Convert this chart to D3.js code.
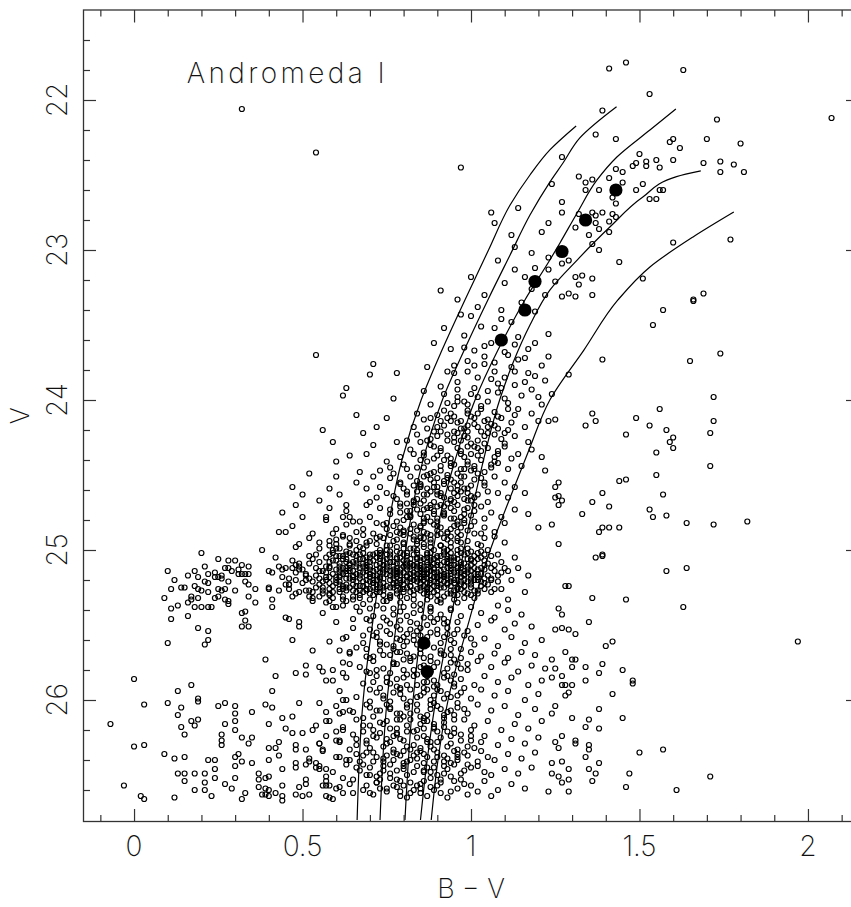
<!DOCTYPE html>
<html><head><meta charset="utf-8">
<script src="https://cdn.jsdelivr.net/npm/d3@7"></script>
<style>
body{margin:0;background:#fff}
svg{display:block}
text{font-family:Inter,"DejaVu Sans",sans-serif;font-weight:200;fill:#111}
</style>
</head><body>
<svg id="chart" width="851" height="907"></svg>
<script>
// ---------- axis ticks / labels ----------
const xMajor = [0, 0.5, 1, 1.5, 2];
const xLabels = ["0", "0.5", "1", "1.5", "2"];
const yMajor = [22, 23, 24, 25, 26];
const yLabels = ["22", "23", "24", "25", "26"];
const xMinor = [-0.1,0.1,0.2,0.3,0.4,0.6,0.7,0.8,0.9,1.1,1.2,1.3,1.4,1.6,1.7,1.8,1.9,2.1];
const yMinor = [21.6,21.8,22.2,22.4,22.6,22.8,23.2,23.4,23.6,23.8,24.2,24.4,24.6,24.8,25.2,25.4,25.6,25.8,26.2,26.4,26.6];
const titleText = "Andromeda I";
const xTitle = "B \u2212 V";
const yTitle = "V";

// ---------- isochrones (B-V, V) ----------
const iso1BV = [1.312,1.234,1.175,1.116,1.052,0.982,0.914,0.852,0.795,0.752,0.718,0.680,0.662];
const iso1V  = [22.173,22.333,22.5,22.7,23.0,23.333,23.667,24.0,24.4,24.867,25.333,26.0,26.8];
const iso2BV = [1.432,1.323,1.273,1.234,1.175,1.116,1.050,0.980,0.915,0.850,0.806,0.776,0.751,0.730];
const iso2V  = [22.045,22.253,22.42,22.547,22.767,23.033,23.333,23.667,24.0,24.467,25.0,25.533,26.0,26.8];
const iso3BV = [1.608,1.531,1.433,1.374,1.315,1.264,1.234,1.160,1.080,1.012,0.953,0.899,0.864,0.828,0.804];
const iso3V  = [22.06,22.2,22.38,22.533,22.753,22.953,23.067,23.333,23.667,24.0,24.4,24.867,25.333,26.0,26.8];
const iso4BV = [1.682,1.610,1.510,1.412,1.315,1.234,1.175,1.125,1.085,1.030,0.985,0.945,0.905,0.870,0.850];
const iso4V  = [22.473,22.511,22.647,22.847,23.067,23.267,23.5,23.75,24.0,24.467,24.933,25.4,25.867,26.4,26.8];
const iso5BV = [1.780,1.659,1.531,1.436,1.335,1.234,1.172,1.125,1.050,0.995,0.932,0.902,0.882];
const iso5V  = [22.747,22.913,23.113,23.333,23.667,24.0,24.333,24.6,25.047,25.467,26.0,26.4,26.8];

// ---------- mean ridge points (filled) ----------
const ridgeBV = [1.43,1.34,1.27,1.19,1.16,1.09,0.86,0.87];
const ridgeV  = [22.60,22.80,23.01,23.21,23.40,23.60,25.62,25.81];

// ---------- stars: flat lists of [B-V*100, V*100] ----------
const brightRGB = [141,2179,146,2175,163,2180,153,2196,139,2207,207,2212,173,2213,137,2223,143,2226,159,2228,160,2226,162,2232,170,2226,180,2229,150,2236,155,2240,152,2241,149,2242,148,2244,152,2244,156,2245,160,2240,169,2242,174,2241,178,2243,181,2248,174,2248,127,2238,124,2256,143,2246,145,2248,132,2251,134,2255,136,2253,134,2260,138,2260,141,2252,145,2255,151,2256,149,2260,156,2260,157,2260,153,2266,155,2266,142,2265,143,2269,127,2268,127,2275,136,2275,139,2275,137,2277,132,2276,142,2276,143,2278,141,2281,137,2282,131,2285,138,2286,141,2288,135,2290,136,2296,138,2300,129,2307,127,2309,123,2305,123,2313,125,2321,131,2318,133,2317,136,2319,132,2323,144,2308,160,2295,177,2293,151,2319,169,2329,166,2333,136,2330,129,2329,127,2331,131,2331];
const upperLeft = [32,2206,54,2235,97,2245,106,2275,107,2282,112,2290,118,2302,121,2288,116,2318,110,2322,104,2330,113,2298,123,2282,100,2318,122,2330,108,2307,115,2335,96,2333,91,2327,114,2272,119,2312,102,2338,109,2340,118,2326,113,2313];
const rightField = [157,2340,154,2350,166,2334,174,2369,165,2374,139,2373,129,2383,172,2398,125,2413,123,2414,136,2409,137,2414,134,2417,149,2412,156,2406,153,2417,158,2420,146,2423,160,2425,159,2428,160,2432,172,2414,171,2422,155,2435,171,2444,155,2450,144,2454,146,2453,157,2463,139,2462,136,2468,141,2471,126,2455,125,2458,126,2464,125,2465,127,2467,126,2470,133,2476,153,2473,154,2478,158,2477,164,2482,172,2483,182,2481,124,2483,138,2488,139,2485,141,2485,144,2485,126,2496,137,2505,139,2503,139,2504,158,2514,164,2512,163,2538,146,2533,136,2532,128,2524,129,2524,126,2539,127,2543,135,2548,125,2553,127,2552,129,2553,131,2556,142,2561,140,2564,197,2561,128,2568,130,2573,131,2573,124,2573,125,2579,130,2578,134,2578,139,2576,138,2582,145,2580,148,2589,148,2587,142,2596,134,2587,127,2584,127,2590,128,2590,130,2590,128,2597,129,2595,124,2585,125,2604,124,2609,130,2612,138,2606,145,2612,135,2613,138,2619,134,2618,127,2624,125,2628,131,2627,131,2629,135,2630,135,2633,126,2632,134,2638,150,2635,157,2633,138,2642,124,2642,127,2641,129,2646,135,2646,137,2649,147,2649,171,2651,124,2649,126,2651,127,2655,129,2653,136,2654,129,2661,146,2658,161,2660,123,2661];
const leftUpper = [54,2370,63,2392,56,2420,64,2437,73,2447,68,2422,60,2441,71,2376,70,2383,77,2399,75,2412,71,2430,66,2455,61,2463,58,2472,69,2459,64,2478,55,2467,71,2451,50,2463,47,2458,52,2449,44,2475,
62,2397,66,2410,59,2428,69,2436,72,2418,75,2441,67,2448,60,2451,73,2458,78,2428,63,2470,57,2478,70,2468,74,2483,48,2470,45,2488,58,2459,76,2445,
47,2484,50,2478,53,2489,57,2480,60,2486,63,2474,66,2488,69,2470,52,2492,58,2494,64,2492,70,2494,49,2496,55,2495,67,2481];
const rgbUpper = [97,2343,103,2351,109,2346,114,2358,119,2341,123,2356,106,2362,111,2370,117,2366,121,2377,99,2374,94,2366,102,2385,108,2389,113,2381,118,2393,122,2387,96,2398,91,2391,100,2396,105,2394,110,2399,115,2397,120,2398,87,2378,92,2352,86,2394,78,2382,112,2348,116,2388,124,2396,101,2367,107,2375,98,2357,119,2362,123,2371,93,2381,114,2373,109,2392,104,2376,89,2362,
100,2344,107,2352,113,2363,98,2365,104,2371,110,2368,116,2372,95,2382,101,2377,107,2381,113,2390,119,2384,92,2396,98,2401,
104,2364,99,2381,112,2378,106,2386,95,2377,117,2382,101,2392,110,2385,96,2388];
const rgbMid = [88,2403,92,2407,96,2401,99,2409,103,2404,107,2408,111,2402,114,2406,118,2409,121,2403,84,2409,101,2412,95,2411,109,2412,
86,2413,90,2418,94,2414,97,2419,101,2416,104,2414,108,2419,112,2415,116,2418,120,2414,83,2418,99,2417,106,2416,93,2412,
84,2423,88,2426,91,2421,95,2428,98,2424,102,2427,105,2422,109,2426,113,2424,117,2428,81,2427,96,2422,100,2429,103,2421,110,2429,
82,2433,86,2435,89,2431,93,2437,96,2432,100,2436,103,2434,107,2438,110,2431,114,2436,118,2433,79,2438,91,2434,98,2438,105,2432,
80,2443,84,2445,87,2441,91,2447,94,2442,97,2446,101,2444,104,2448,108,2442,111,2446,115,2444,77,2449,89,2448,96,2449,99,2441,106,2445,122,2447,121,2438,
103,2406,97,2414,108,2411,92,2417,113,2410,99,2421,105,2418,90,2424,111,2420,95,2425,101,2431,107,2423,88,2430,94,2439,112,2439,97,2427,103,2440,86,2437,108,2434,91,2444,99,2443,
95,2404,100,2411,91,2414,105,2413,98,2419,93,2427,104,2424,89,2421,97,2434,102,2437,92,2440,107,2441,86,2445,98,2446,
99,2403,94,2409,88,2412,102,2418,95,2421,87,2427,99,2431,90,2437,85,2440,95,2443,
96,2393,102,2398,108,2395,93,2402,99,2407,105,2401,111,2406,90,2410,96,2415,102,2409,107,2417,87,2419,93,2423,99,2425,104,2429,110,2422,85,2428,91,2432,97,2436,102,2432,108,2436,83,2436,89,2439,94,2444,100,2447,106,2443,81,2446];
const rgbLower = [76,2452,79,2456,82,2451,85,2457,88,2453,90,2458,93,2452,95,2455,98,2459,101,2453,104,2457,107,2451,110,2455,113,2458,87,2459,97,2451,92,2456,100,2457,84,2454,80,2459,
75,2462,78,2466,81,2461,83,2467,86,2463,89,2468,91,2462,94,2466,97,2461,99,2467,102,2463,105,2468,108,2462,111,2465,85,2469,93,2469,96,2464,88,2461,100,2464,79,2469,72,2465,
73,2472,76,2476,79,2471,82,2477,84,2473,87,2478,90,2471,92,2475,95,2479,98,2473,100,2477,103,2471,106,2475,109,2478,81,2474,86,2479,89,2474,94,2472,97,2478,101,2474,70,2478,113,2473,
72,2482,75,2486,78,2481,80,2487,83,2483,86,2488,88,2481,91,2485,93,2489,96,2483,99,2487,101,2481,104,2485,107,2488,110,2482,77,2484,82,2489,85,2484,90,2487,94,2486,98,2482,103,2489,68,2486,65,2481,117,2476,116,2462,120,2485,
93,2450,89,2455,96,2457,86,2451,102,2449,99,2462,91,2464,84,2466,105,2461,95,2468,88,2470,101,2470,82,2474,92,2477,98,2476,85,2476,104,2479,89,2483,95,2484,80,2480,100,2484,87,2489,92,2492,83,2491,97,2490,78,2493,
90,2452,94,2459,87,2463,83,2457,98,2466,92,2471,86,2473,81,2469,96,2481,90,2479,84,2487,79,2485,88,2493,94,2495,76,2490,80,2496,
103,2452,89,2458,97,2455,84,2461,92,2465,100,2467,87,2472,95,2474,82,2478,90,2481,98,2480,85,2485,93,2488,80,2490,88,2490,96,2494,84,2494,91,2497,
88,2449,101,2446,94,2453,85,2456,99,2459,90,2461,81,2463,95,2462,86,2467,91,2470,83,2470,96,2470,89,2476,79,2475,94,2479,86,2482,82,2486,90,2484,78,2488,86,2492,94,2491,
87,2450,92,2454,98,2451,104,2455,79,2455,85,2458,90,2463,96,2460,101,2465,77,2464,83,2468,88,2472,94,2467,99,2472,76,2473,81,2478,86,2481,92,2476,97,2485,75,2482,80,2488,85,2492,91,2489,96,2488,73,2491];
const clump = [62,2491,68,2490,74,2492,79,2489,85,2491,90,2490,96,2492,101,2489,107,2491,71,2489,
60,2493,66,2494,72,2492,77,2494,83,2493,88,2495,93,2493,99,2494,104,2492,
64,2496,69,2495,75,2497,80,2495,86,2496,91,2497,97,2495,102,2496,58,2497,110,2495,
61,2499,67,2498,73,2500,78,2498,83,2499,89,2500,94,2498,99,2499,105,2500,55,2499,
59,2502,63,2501,70,2503,76,2501,81,2502,87,2503,92,2501,97,2502,103,2501,108,2503,65,2503,
57,2505,62,2504,68,2506,73,2504,79,2505,84,2506,90,2504,95,2505,100,2506,106,2504,75,2506,87,2505,
55,2508,60,2507,66,2509,71,2507,77,2508,82,2509,88,2507,93,2508,98,2509,104,2507,109,2508,69,2508,85,2507,
58,2511,64,2510,69,2512,74,2510,80,2511,85,2512,91,2510,96,2511,101,2512,107,2510,62,2512,78,2512,94,2510,
56,2514,61,2513,67,2515,72,2513,78,2514,83,2515,89,2513,94,2514,99,2515,104,2513,111,2514,65,2514,87,2515,
54,2517,59,2516,65,2518,70,2516,76,2517,81,2518,86,2516,92,2517,97,2518,102,2516,108,2517,73,2518,90,2517,
57,2520,63,2519,68,2521,74,2519,79,2520,84,2521,90,2519,95,2520,100,2521,106,2519,61,2521,82,2519,
55,2523,60,2522,66,2524,71,2522,77,2523,82,2524,88,2522,93,2523,98,2524,104,2522,69,2523,85,2523,
58,2526,63,2525,69,2527,74,2525,80,2526,85,2527,91,2525,96,2526,102,2527,65,2527,87,2526,
56,2529,61,2528,67,2530,72,2528,78,2529,83,2530,89,2528,94,2529,100,2530,76,2530,
59,2532,65,2531,70,2533,76,2531,81,2532,87,2533,92,2531,98,2532,62,2533,
57,2535,63,2534,68,2536,74,2534,79,2535,85,2536,90,2534,96,2535,
66,2538,72,2537,77,2539,83,2537,88,2538,94,2539,60,2538,
64,2509,70,2505,76,2503,82,2511,88,2514,93,2504,79,2517,84,2509,73,2515,67,2519,90,2522,86,2520,81,2507,75,2513,70,2518,78,2522,84,2516,92,2513,96,2517,68,2511,72,2520,87,2510,63,2516,58,2518,61,2509,
109,2526,112,2520,114,2512,116,2528,111,2533,108,2537,113,2505,117,2517];
const clumpCore = [52,2509,55,2514,53,2521,56,2527,51,2516,54,2503,
60,2496,63,2506,66,2500,64,2519,67,2527,62,2531,69,2497,71,2514,73,2509,72,2526,75,2500,77,2519,78,2505,76,2532,80,2515,81,2521,83,2503,82,2528,85,2510,86,2498,84,2519,87,2525,89,2506,88,2531,91,2514,92,2499,90,2527,94,2521,95,2507,93,2512,97,2526,98,2514,96,2503,100,2519,101,2508,103,2524,102,2513,105,2517,106,2528,99,2529,
57,2511,59,2524,61,2504,65,2508,68,2524,70,2511,74,2507,73,2502,79,2526,81,2509,84,2496,86,2524,88,2517,91,2504,93,2529,95,2515,97,2508,99,2521,103,2516,104,2510,108,2521,110,2512,
58,2530,63,2512,66,2516,69,2520,71,2503,74,2522,77,2511,80,2503,82,2516,85,2505,87,2513,89,2521,92,2508,94,2524,96,2512,98,2503,100,2525,102,2506,107,2514,
60,2513,62,2524,65,2533,67,2506,70,2529,72,2517,75,2524,78,2516,79,2509,83,2520,84,2526,86,2511,88,2502,90,2518,91,2533,93,2519,95,2527,97,2518,101,2532,103,2505,
56,2521,59,2507,64,2502,68,2515,71,2520,73,2528,76,2514,78,2527,81,2513,82,2506,85,2516,87,2522,89,2512,92,2525,94,2507,96,2530,98,2517,100,2510,105,2523,109,2515,
44,2518,46,2526,48,2515,47,2531,50,2522,49,2509,45,2512,53,2534,51,2527,55,2531,
61,2518,63,2527,66,2521,68,2509,70,2513,72,2510,74,2515,76,2508,77,2522,79,2513,80,2520,82,2524,83,2510,85,2522,86,2515,87,2508,88,2526,90,2510,91,2520,93,2506,94,2516,95,2522,97,2512,98,2520,100,2514,102,2520,104,2526,106,2512,
64,2514,67,2512,69,2517,71,2525,73,2519,75,2511,77,2517,78,2509,80,2507,82,2519,84,2513,86,2518,87,2528,89,2515,90,2524,92,2518,94,2512,96,2520,97,2523,99,2513,101,2516,
57,2515,60,2520,63,2503,66,2511,69,2526,72,2505,75,2516,78,2524,81,2504,84,2511,87,2519,90,2505,93,2517,96,2525,99,2506,102,2518,105,2509,59,2528,62,2506,65,2523,68,2502,71,2517,74,2530,77,2513,80,2528,83,2517,86,2506,89,2524,92,2516,95,2510,98,2528,101,2520,104,2503,107,2526,
58,2503,61,2515,64,2525,67,2503,70,2521,73,2512,76,2520,79,2502,82,2513,85,2525,88,2511,91,2523,94,2502,97,2515,100,2523,103,2512,106,2520,
55,2519,58,2508,61,2523,64,2497,67,2517,70,2508,73,2523,76,2497,79,2522,82,2499,85,2514,88,2520,91,2497,94,2519,97,2499,100,2517,103,2497,
56,2525,60,2499,63,2514,66,2528,69,2505,72,2523,75,2503,78,2518,81,2525,84,2502,87,2516,90,2530,93,2500,96,2515,99,2502,102,2529,
50,2513,52,2519,54,2525,48,2520,53,2506,47,2512,49,2528,46,2519,
63,2508,66,2504,69,2514,72,2502,75,2509,78,2501,81,2517,84,2505,87,2502,90,2515,93,2509,96,2506,99,2511,102,2502,65,2520,68,2528,71,2522,74,2527,77,2525,80,2523,83,2527,86,2529,89,2518,92,2521,95,2530,98,2524,101,2527,104,2519,
64,2512,67,2524,70,2516,73,2506,76,2525,79,2515,82,2521,85,2519,88,2505,91,2517,94,2527,97,2510,100,2507,103,2521,62,2516,66,2507,70,2526,74,2513,78,2506,82,2509,86,2513,90,2508,94,2505,98,2516,
61,2511,65,2517,69,2510,73,2525,77,2515,81,2511,85,2518,89,2509,93,2522,97,2521,101,2504,
68,2499,72,2496,76,2505,80,2499,84,2500,88,2498,92,2503,96,2500,100,2501,
67,2532,71,2530,75,2534,79,2531,83,2533,87,2530,91,2535,95,2533];
const belowClump = [62,2537,67,2541,71,2544,74,2539,77,2543,80,2538,83,2542,86,2545,88,2539,91,2543,94,2540,97,2544,100,2538,103,2542,107,2545,111,2540,115,2543,69,2546,79,2547,85,2540,92,2546,
60,2548,65,2552,70,2547,73,2551,76,2549,79,2553,82,2548,84,2554,87,2550,90,2546,93,2552,96,2548,99,2554,102,2550,106,2547,110,2553,113,2549,118,2551,72,2555,81,2556,88,2555,95,2556,
63,2558,68,2562,71,2557,75,2563,78,2559,80,2564,83,2557,86,2561,89,2565,92,2558,95,2562,98,2557,101,2563,104,2559,108,2564,112,2558,116,2562,121,2560,66,2565,77,2566,85,2566,94,2566,
64,2568,69,2571,73,2567,76,2570,79,2568,82,2572,85,2569,88,2571,91,2567,94,2570,97,2572,100,2568,103,2571,107,2569,111,2572,115,2568,119,2570];
const faintMid = [62,2575,67,2578,71,2574,74,2579,77,2576,80,2580,82,2574,85,2578,88,2581,90,2575,93,2579,96,2576,99,2580,102,2574,106,2578,110,2575,114,2581,118,2577,122,2579,70,2582,84,2583,95,2583,
63,2585,68,2589,72,2584,75,2588,78,2586,81,2590,83,2584,86,2588,89,2591,92,2585,95,2589,97,2586,101,2590,104,2584,108,2588,112,2585,117,2590,121,2587,79,2592,87,2593,
61,2594,66,2598,70,2593,74,2597,77,2595,80,2599,82,2593,85,2597,88,2600,91,2594,94,2598,97,2595,100,2599,103,2593,107,2597,111,2594,116,2600,120,2596,76,2601,89,2602,
60,2604,65,2608,69,2603,73,2607,76,2605,79,2609,81,2603,84,2607,87,2610,90,2604,93,2608,96,2605,99,2609,102,2603,106,2607,110,2604,114,2610,119,2606,71,2611,86,2612];
const faintLow = [58,2614,62,2618,66,2613,70,2617,73,2615,76,2619,79,2613,81,2617,84,2620,87,2614,89,2618,92,2615,95,2619,98,2613,101,2617,105,2614,109,2620,113,2616,117,2619,121,2614,68,2621,78,2622,90,2621,
57,2624,61,2628,65,2623,69,2627,72,2625,75,2629,78,2623,80,2627,83,2630,86,2624,88,2628,91,2625,94,2629,97,2623,100,2627,104,2624,108,2630,112,2626,116,2629,120,2625,74,2631,85,2632,99,2631,
56,2634,60,2638,64,2633,68,2637,71,2635,74,2639,77,2633,79,2637,82,2640,85,2634,87,2638,90,2635,93,2639,96,2633,99,2637,103,2634,107,2640,111,2636,115,2639,119,2635,81,2641,94,2642,
55,2644,59,2648,63,2643,67,2647,70,2645,73,2649,76,2643,78,2647,81,2650,84,2644,86,2648,89,2645,92,2649,95,2643,98,2647,102,2644,106,2650,110,2646,114,2649,118,2645,72,2651,88,2652,
57,2654,61,2658,65,2653,69,2657,72,2655,75,2659,78,2653,80,2657,83,2660,86,2654,88,2658,91,2655,94,2661,97,2653,100,2657,104,2654,108,2660,112,2656,116,2659,71,2663,79,2664,85,2662,93,2665,99,2663,106,2664];
const faintExtra = [74,2545,81,2544,89,2548,78,2551,85,2552,92,2549,70,2553,88,2545,96,2553,76,2556,83,2560,90,2556,73,2561,80,2558,87,2563,94,2560,100,2559,77,2564,84,2563,91,2569,69,2566,81,2569,88,2574,95,2573,74,2570,78,2576,86,2577,92,2582,99,2576,72,2580,80,2585,87,2584,94,2587,76,2589,84,2590,90,2590,98,2592,73,2592,79,2596,86,2595,93,2596,82,2601,89,2597,96,2602,75,2603,84,2603,91,2606,98,2606,78,2609,85,2611,92,2612,72,2607,
75,2614,82,2613,89,2616,95,2613,68,2617,78,2619,86,2619,93,2621,100,2620,71,2624,79,2626,84,2625,90,2628,97,2627,103,2628,66,2630,76,2628,82,2633,88,2631,95,2634,101,2632,69,2635,75,2637,80,2634,86,2636,92,2637,98,2635,105,2638,63,2640,71,2641,77,2640,84,2639,89,2641,96,2640,102,2641,66,2645,74,2644,80,2646,87,2645,93,2646,100,2645,69,2650,76,2649,83,2648,90,2650,97,2649,104,2648,62,2652,72,2655,79,2654,85,2656,91,2653,98,2656,68,2660,75,2661,82,2662,89,2660,96,2659,102,2661,60,2659,
79,2541,84,2549,75,2554,90,2553,81,2561,87,2558,93,2556,72,2558,78,2568,85,2566,92,2570,70,2572,80,2573,86,2572,97,2579,76,2582,83,2580,89,2587,95,2591,71,2588,79,2593,86,2592,92,2599,74,2599,81,2605,88,2606,95,2610,70,2605,78,2613,85,2616,92,2618,73,2622,81,2621,87,2626,94,2624,100,2624,66,2626,77,2635,83,2637,89,2633,96,2638,70,2632,74,2647,80,2642,86,2642,92,2644,99,2643,67,2641,73,2653,78,2658,84,2657,90,2657,95,2654,64,2656,70,2662,77,2657,87,2664,81,2665,
70,2539,75,2547,82,2553,88,2541,93,2548,68,2557,73,2563,79,2560,85,2557,91,2562,97,2566,71,2571,77,2575,83,2571,89,2578,94,2575,69,2581,75,2585,81,2583,87,2588,93,2584,72,2595,78,2591,84,2598,90,2593,96,2597,70,2601,76,2606,82,2609,88,2603,94,2607,68,2612,74,2616,80,2611,86,2614,92,2610,71,2620,77,2624,83,2621,89,2619,95,2622,69,2629,75,2626,81,2631,87,2628,93,2631,66,2636,72,2638,78,2636,84,2635,90,2638,96,2636,68,2643,74,2641,80,2644,86,2647,92,2641,70,2650,76,2652,82,2655,88,2648,94,2651,73,2659,79,2661,85,2659,91,2662];
const blueHB = [20,2502,10,2514,12,2520,9,2532,11,2526,11,2539,13,2537,11,2546,10,2562,14,2525,16,2517,15,2525,17,2531,16,2535,16,2544,18,2514,19,2518,18,2524,19,2526,19,2532,17,2533,18,2538,19,2552,21,2563,22,2554,22,2560,20,2538,20,2527,21,2521,21,2511,22,2516,22,2522,22,2528,22,2538,24,2518,25,2506,24,2515,25,2518,26,2517,26,2519,25,2526,26,2527,25,2531,24,2532,23,2538,28,2507,27,2512,28,2512,29,2514,30,2527,28,2521,27,2526,28,2534,28,2536,27,2533,30,2507,31,2513,31,2516,32,2516,32,2510,33,2521,34,2511,33,2516,34,2516,34,2531,36,2526,36,2535,34,2523,32,2542,33,2541,33,2547,32,2551,34,2551,38,2500,40,2514,41,2515,42,2505,43,2488,43,2511,44,2513,40,2525,40,2526,43,2527,41,2533,41,2538,45,2523,46,2523,46,2523,45,2545,46,2546,49,2548,49,2551,47,2560,48,2498,47,2507,48,2510,49,2511,49,2513,48,2529,51,2517,51,2520,52,2504,54,2512,52,2527,52,2531,53,2532,53,2528,56,2542,59,2489,62,2490,62,2478,63,2483,59,2500,60,2504,58,2512,57,2518,58,2522,60,2518,61,2517,61,2526,62,2526,63,2523,58,2534,59,2538,58,2529,65,2546];
const leftFaint = [53,2567,55,2578,56,2581,57,2587,59,2587,59,2580,62,2582,58,2561,62,2559,61,2567,64,2569,64,2576,0,2586,3,2603,-7,2616,0,2631,3,2630,-3,2657,2,2664,3,2666,9,2636,10,2602,13,2594,14,2605,13,2610,17,2590,14,2618,15,2623,17,2614,18,2617,19,2613,19,2599,19,2601,12,2639,15,2638,13,2649,15,2649,15,2654,18,2649,18,2660,12,2665,21,2649,21,2655,21,2660,23,2664,22,2640,24,2640,24,2646,24,2652,27,2656,29,2659,30,2652,30,2644,30,2638,31,2636,32,2641,35,2642,32,2666,33,2662,25,2604,27,2602,30,2614,30,2604,30,2609,27,2616,30,2620,26,2623,26,2627,26,2630,32,2625,35,2625,34,2629,35,2608,37,2649,37,2653,37,2658,38,2663,39,2659,39,2663,40,2664,40,2660,42,2662,39,2652,40,2651,40,2640,40,2632,42,2632,43,2628,43,2637,40,2616,39,2603,41,2605,44,2612,44,2657,44,2664,44,2667,44,2646,47,2611,45,2619,47,2622,49,2602,50,2622,48,2630,48,2633,51,2633,51,2643,48,2642,48,2645,49,2658,48,2663,50,2664,51,2653,51,2656,52,2663,52,2641,52,2639,54,2642,54,2645,55,2629,55,2629,56,2633,55,2646,57,2651,57,2646,56,2657,57,2657,58,2657,57,2664,58,2665,59,2666,62,2662,65,2662,60,2621,61,2627,60,2627,62,2620,61,2609,62,2608,64,2607,62,2600,63,2600,61,2638,64,2640,55,2602,57,2608,57,2614,54,2617,53,2620,51,2583,51,2577,48,2582,39,2573,42,2584,41,2594];

const starSets = [brightRGB, upperLeft, rightField, leftUpper, rgbUpper, rgbMid, rgbLower, clump, clumpCore, belowClump, faintMid, faintLow, faintExtra, blueHB, leftFaint];

// ---------- drawing ----------
const W = 851, H = 907;
const svg = d3.select("#chart");
svg.append("rect").attr("width", W).attr("height", H).attr("fill", "#fff");

const x = d3.scaleLinear().domain([-0.15, 2.15]).range([83.5, 858.5]);
const y = d3.scaleLinear().domain([21.4, 26.81]).range([10, 821.5]);

const stars = [];
starSets.forEach(s => { for (let i = 0; i < s.length; i += 2) stars.push([s[i] / 100, s[i + 1] / 100]); });

const plot = svg.append("g");
plot.append("g").selectAll("circle").data(stars).join("circle")
  .attr("cx", d => x(d[0])).attr("cy", d => y(d[1])).attr("r", 2.5)
  .attr("fill", "none").attr("stroke", "#000").attr("stroke-width", 1.2);

const isos = [[iso1BV, iso1V], [iso2BV, iso2V], [iso3BV, iso3V], [iso4BV, iso4V], [iso5BV, iso5V]];
const line = d3.line().x(d => x(d[0])).y(d => y(d[1])).curve(d3.curveMonotoneY);
isos.forEach(([bv, v]) => {
  plot.append("path").datum(bv.map((b, i) => [b, v[i]])).attr("d", line)
    .attr("fill", "none").attr("stroke", "#000").attr("stroke-width", 1.2);
});

plot.append("g").selectAll("circle").data(ridgeBV.map((b, i) => [b, ridgeV[i]])).join("circle")
  .attr("cx", d => x(d[0])).attr("cy", d => y(d[1])).attr("r", 6.6).attr("fill", "#000");

// axes: ticks on all four sides pointing inward
const axCol = "#333";
function styleAxis(g) { g.select(".domain").remove(); g.selectAll("line").attr("stroke", axCol).attr("stroke-width", 1.2); g.selectAll("text").remove(); }
const [x0, x1] = x.range(), [y0, y1] = y.range();
svg.append("g").attr("transform", `translate(0,${y1})`).call(d3.axisBottom(x).tickValues(xMinor).tickSize(-6.5)).call(styleAxis);
svg.append("g").attr("transform", `translate(0,${y1})`).call(d3.axisBottom(x).tickValues(xMajor).tickSize(-12.5)).call(styleAxis);
svg.append("g").attr("transform", `translate(0,${y0})`).call(d3.axisTop(x).tickValues(xMinor).tickSize(-6.5)).call(styleAxis);
svg.append("g").attr("transform", `translate(0,${y0})`).call(d3.axisTop(x).tickValues(xMajor).tickSize(-12.5)).call(styleAxis);
svg.append("g").attr("transform", `translate(${x0},0)`).call(d3.axisLeft(y).tickValues(yMinor).tickSize(-6.5)).call(styleAxis);
svg.append("g").attr("transform", `translate(${x0},0)`).call(d3.axisLeft(y).tickValues(yMajor).tickSize(-12.5)).call(styleAxis);
svg.append("g").attr("transform", `translate(${x1},0)`).call(d3.axisRight(y).tickValues(yMinor).tickSize(-6.5)).call(styleAxis);
svg.append("g").attr("transform", `translate(${x1},0)`).call(d3.axisRight(y).tickValues(yMajor).tickSize(-12.5)).call(styleAxis);
svg.append("rect").attr("x", x0).attr("y", y0).attr("width", x1 - x0).attr("height", y1 - y0)
  .attr("fill", "none").attr("stroke", axCol).attr("stroke-width", 1.3);

// tick labels
svg.append("g").selectAll("text").data(xMajor).join("text")
  .attr("x", d => x(d)).attr("y", 856).attr("text-anchor", "middle").attr("font-size", 28)
  .text((d, i) => xLabels[i]);
svg.append("g").selectAll("text").data(yMajor).join("text")
  .attr("transform", d => `translate(67,${y(d)}) rotate(-90)`).attr("text-anchor", "middle").attr("font-size", 28)
  .text((d, i) => yLabels[i]);

// axis titles and label
svg.append("text").attr("x", (x0 + x1) / 2).attr("y", 898).attr("text-anchor", "middle").attr("font-size", 27).text(xTitle);
svg.append("text").attr("transform", `translate(29,${(y0 + y1) / 2}) rotate(-90)`).attr("text-anchor", "middle").attr("font-size", 26).text(yTitle);
svg.append("text").attr("x", 186.7).attr("y", 83.3).attr("font-size", 28)
  .attr("textLength", 198).attr("lengthAdjust", "spacing").text(titleText);
</script>
</body></html>
